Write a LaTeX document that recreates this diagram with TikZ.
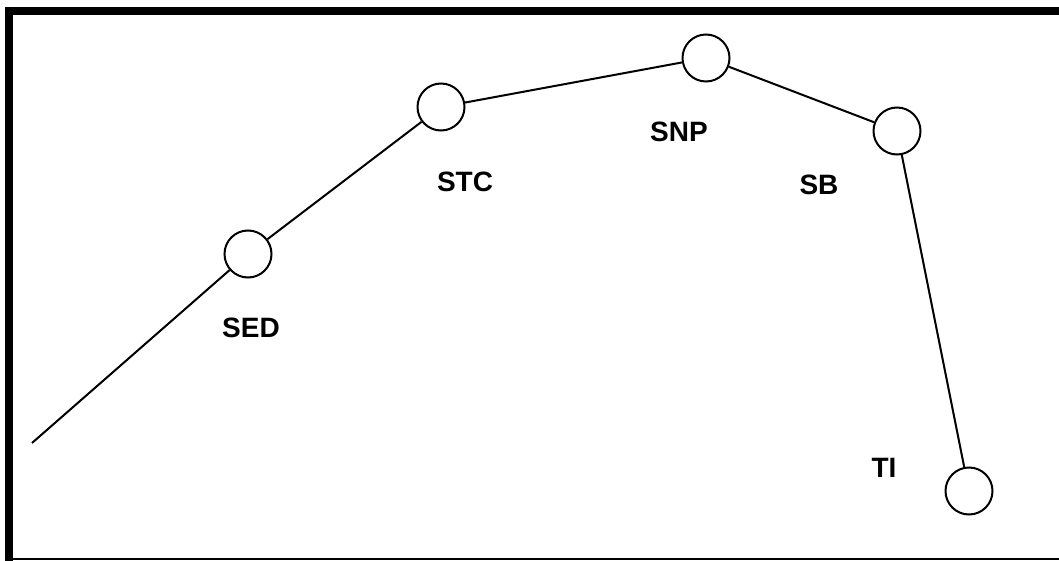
\documentclass[tikz,border=0pt]{standalone}
\usepackage{fontspec}
\setmainfont{Liberation Sans}
\begin{document}
\begin{tikzpicture}[x=1pt,y=-1pt,
  stage/.style={circle,draw,line width=2pt,minimum size=47pt,inner sep=0pt,fill=white},
  tag/.style={font=\bfseries\fontsize{28}{30}\selectfont,inner sep=0pt,anchor=center},
  link/.style={line width=2pt}]
  \useasboundingbox (0,0) rectangle (1059,561);
  % frame: heavy left and top edges, thin bottom edge
  \fill (5,7) rectangle (1059,15);
  \fill (5,7) rectangle (13,561);
  \fill (5,558) rectangle (1059,560);

  % stages
  \node[stage] (sed) at (248,254) {};
  \node[stage] (stc) at (441,107) {};
  \node[stage] (snp) at (706,58) {};
  \node[stage] (sb)  at (897,131) {};
  \node[stage] (ti)  at (969,491) {};
  \coordinate (start) at (32,443);

  % connectors
  \draw[link] (start) -- (sed);
  \draw[link] (sed) -- (stc);
  \draw[link] (stc) -- (snp);
  \draw[link] (snp) -- (sb);
  \draw[link] (sb) -- (ti);

  % labels
  \node[tag] (lsed) at (251,328) {SED};
  \node[tag] (lstc) at (465,182) {STC};
  \node[tag] (lsnp) at (679,132) {SNP};
  \node[tag] (lsb)  at (819,185) {SB};
  \node[tag] (lti)  at (884,468) {TI};
\end{tikzpicture}
\end{document}
